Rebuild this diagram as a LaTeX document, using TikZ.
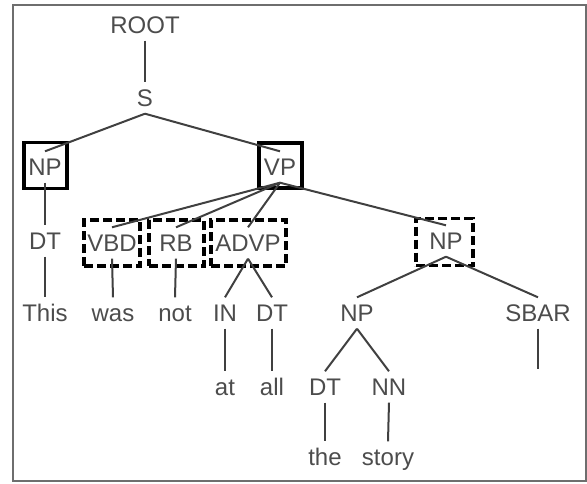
\documentclass[tikz,border=0pt]{standalone}
\usepackage{fontspec}
\setmainfont{Liberation Sans}
\usetikzlibrary{positioning}
\definecolor{txt}{HTML}{4C4C4C}
\definecolor{edge}{HTML}{404040}
\definecolor{frame}{HTML}{6E6E6E}

\begin{document}
\begin{tikzpicture}[
  x=1pt, y=1pt,
  tag/.style={font=\fontsize{24}{28}\selectfont, text=txt, text height=17pt, text depth=0pt, inner sep=7pt},
  branch/.style={draw=edge, line width=2pt},
  solidbox/.style={draw=black, line width=3.2pt, inner sep=0pt},
  dashbox/.style={solidbox, dash pattern=on 9pt off 4pt},
]

\useasboundingbox (0,0) rectangle (587,-483);
\draw[frame, line width=2.8pt] (13,-5) rectangle (586,-481);

\node[tag] (root) at (145,-25) {ROOT};
\node[tag] (s) at (145,-98) {S};
\node[tag] (np) at (45,-167) {NP};
\node[tag] (vp) at (280,-167) {VP};

\node[tag] (dta) at (45,-241) {DT};
\node[tag] (vbd) at (112,-243) {VBD};
\node[tag] (rb) at (176,-243) {RB};
\node[tag] (advp) at (248,-243) {ADVP};
\node[tag] (npb) at (446,-241) {NP};

\node[tag] (this) at (45,-313) {This};
\node[tag] (was) at (113,-313) {was};
\node[tag] (not) at (175,-313) {not};
\node[tag] (in) at (225,-313) {IN};
\node[tag] (dtb) at (272,-313) {DT};
\node[tag] (npc) at (357,-313) {NP};
\node[tag] (sbar) at (538,-313) {SBAR};

\node[tag] (at) at (225,-387) {at};
\node[tag] (all) at (272,-387) {all};
\node[tag] (dtc) at (325,-387) {DT};
\node[tag] (nn) at (389,-387) {NN};
\coordinate (sbarend) at (538,-369);

\node[tag] (the) at (325,-457) {the};
\node[tag] (story) at (388,-457) {story};

\node[solidbox, minimum width=43pt, minimum height=46pt] (npframe) at (45.5,-165.5) {};
\node[solidbox, minimum width=43pt, minimum height=45pt] (vpframe) at (280.5,-165.5) {};
\node[dashbox, minimum width=56pt, minimum height=46pt] (vbdframe) at (112,-243) {};
\node[dashbox, minimum width=55pt, minimum height=46pt] (rbframe) at (176.5,-243) {};
\node[dashbox, minimum width=75pt, minimum height=46pt] (advpframe) at (248.5,-243) {};
\node[dashbox, minimum width=57pt, minimum height=47pt] (npbframe) at (444.5,-242) {};

\draw[branch] (root.south) -- (s.north);
\draw[branch] (s.south) -- (np.north);
\draw[branch] (s.south) -- (vp.north);
\draw[branch] (np.south) -- (dta.north);
\draw[branch] (vp.south) -- (vbd.north);
\draw[branch] (vp.south) -- (rb.north);
\draw[branch] (vp.south) -- (advp.north);
\draw[branch] (vp.south) -- (npb.north);
\draw[branch] (dta.south) -- (this.north);
\draw[branch] (vbd.south) -- (was.north);
\draw[branch] (rb.south) -- (not.north);
\draw[branch] (advp.south) -- (in.north);
\draw[branch] (advp.south) -- (dtb.north);
\draw[branch] (npb.south) -- (npc.north);
\draw[branch] (npb.south) -- (sbar.north);
\draw[branch] (in.south) -- (at.north);
\draw[branch] (dtb.south) -- (all.north);
\draw[branch] (npc.south) -- (dtc.north);
\draw[branch] (npc.south) -- (nn.north);
\draw[branch] (sbar.south) -- (sbarend);
\draw[branch] (dtc.south) -- (the.north);
\draw[branch] (nn.south) -- (story.north);

\end{tikzpicture}
\end{document}
